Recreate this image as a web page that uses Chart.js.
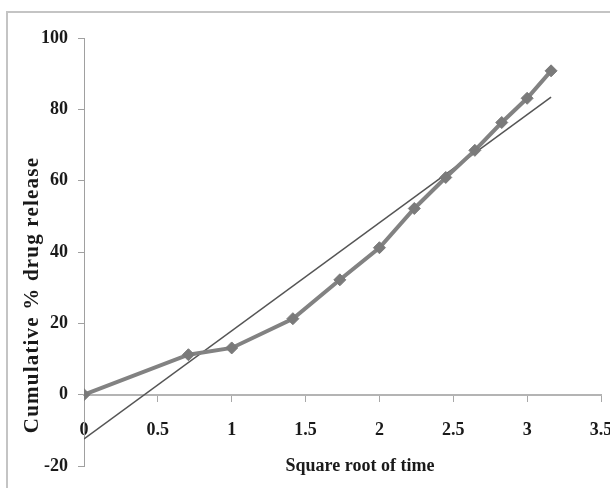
<!DOCTYPE html>
<html>
<head>
<meta charset="utf-8">
<script src="https://cdn.jsdelivr.net/npm/chart.js@4"></script>
<style>
  html, body { margin: 0; padding: 0; background: #fff; }
  #wrap { position: relative; width: 610px; height: 502px; }
</style>
</head>
<body>
<div id="wrap"><canvas id="c"></canvas></div>
<script>
// Data
const sqrtTime = [0, 0.707, 1, 1.414, 1.732, 2, 2.236, 2.449, 2.646, 2.828, 3, 3.162];
const cumulativeRelease = [0, 11.2, 13.1, 21.3, 32.2, 41.2, 52.2, 60.9, 68.5, 76.3, 83.1, 90.8];
const trendX = [0, 3.162];
const trendY = [-12.4, 83.4];
const xTickValues = [0, 0.5, 1, 1.5, 2, 2.5, 3, 3.5];
const yTickValues = [-20, 0, 20, 40, 60, 80, 100];
const xTitle = 'Square root of time';
const yTitle = 'Cumulative % drug release';

const serif = '"Liberation Serif", "Times New Roman", serif';

const framePlugin = {
  id: 'frame',
  beforeDraw(chart) {
    const ctx = chart.ctx;
    ctx.save();
    ctx.strokeStyle = '#c4c4c4';
    ctx.lineWidth = 2;
    ctx.beginPath();
    ctx.moveTo(7, 488);
    ctx.lineTo(7, 12);
    ctx.lineTo(610, 12);
    ctx.stroke();
    ctx.restore();
  }
};

const titlesPlugin = {
  id: 'axisTitles',
  afterDraw(chart) {
    const ctx = chart.ctx;
    ctx.save();
    ctx.fillStyle = '#1a1a1a';
    ctx.textAlign = 'center';
    ctx.textBaseline = 'middle';
    ctx.font = 'bold 18px ' + serif;
    ctx.fillText(xTitle, 360, 466);
    ctx.translate(33, 295);
    ctx.rotate(-Math.PI / 2);
    ctx.font = 'bold 21px ' + serif;
    if ('letterSpacing' in ctx) ctx.letterSpacing = '1.2px';
    ctx.fillText(yTitle, 0, 0);
    ctx.restore();
  }
};

new Chart(document.getElementById('c'), {
  type: 'scatter',
  data: {
    datasets: [
      {
        label: 'Cumulative release',
        data: sqrtTime.map((x, i) => ({ x: x, y: cumulativeRelease[i] })),
        showLine: true,
        borderColor: '#828282',
        borderWidth: 4,
        pointStyle: 'rectRot',
        pointRadius: 6,
        pointBackgroundColor: '#7a7a7a',
        pointBorderColor: '#7a7a7a',
        pointBorderWidth: 1,
        tension: 0
      },
      {
        label: 'Linear fit',
        data: trendX.map((x, i) => ({ x: x, y: trendY[i] })),
        showLine: true,
        borderColor: '#555555',
        borderWidth: 1.5,
        pointRadius: 0,
        tension: 0
      }
    ]
  },
  options: {
    responsive: true,
    maintainAspectRatio: false,
    animation: false,
    layout: { padding: { left: 31, top: 38, right: 9, bottom: 36 } },
    plugins: { legend: { display: false }, tooltip: { enabled: false } },
    scales: {
      x: {
        type: 'linear',
        position: { y: 0 },
        min: 0,
        max: 3.5,
        afterBuildTicks(scale) { scale.ticks = xTickValues.map(v => ({ value: v })); },
        afterFit(scale) { scale.paddingLeft = 0; scale.paddingRight = 9; },
        ticks: {
          padding: 19,
          color: '#1a1a1a',
          font: { family: serif, size: 18, weight: 'bold' },
          maxRotation: 0,
          callback: v => String(v)
        },
        grid: { drawOnChartArea: false, drawTicks: true, tickLength: 6, color: '#a8a8a8' },
        border: { display: true, color: '#b4b4b4', width: 2 },
        title: { display: false }
      },
      y: {
        type: 'linear',
        position: 'left',
        min: -20,
        max: 100,
        afterBuildTicks(scale) { scale.ticks = yTickValues.map(v => ({ value: v })); },
        ticks: {
          padding: 10,
          color: '#1a1a1a',
          font: { family: serif, size: 18, weight: 'bold' }
        },
        grid: { drawOnChartArea: false, drawTicks: true, tickLength: 6, color: '#a0a0a0' },
        border: { display: true, color: '#a0a0a0', width: 1 }
      }
    }
  },
  plugins: [framePlugin, titlesPlugin]
});
</script>
</body>
</html>
